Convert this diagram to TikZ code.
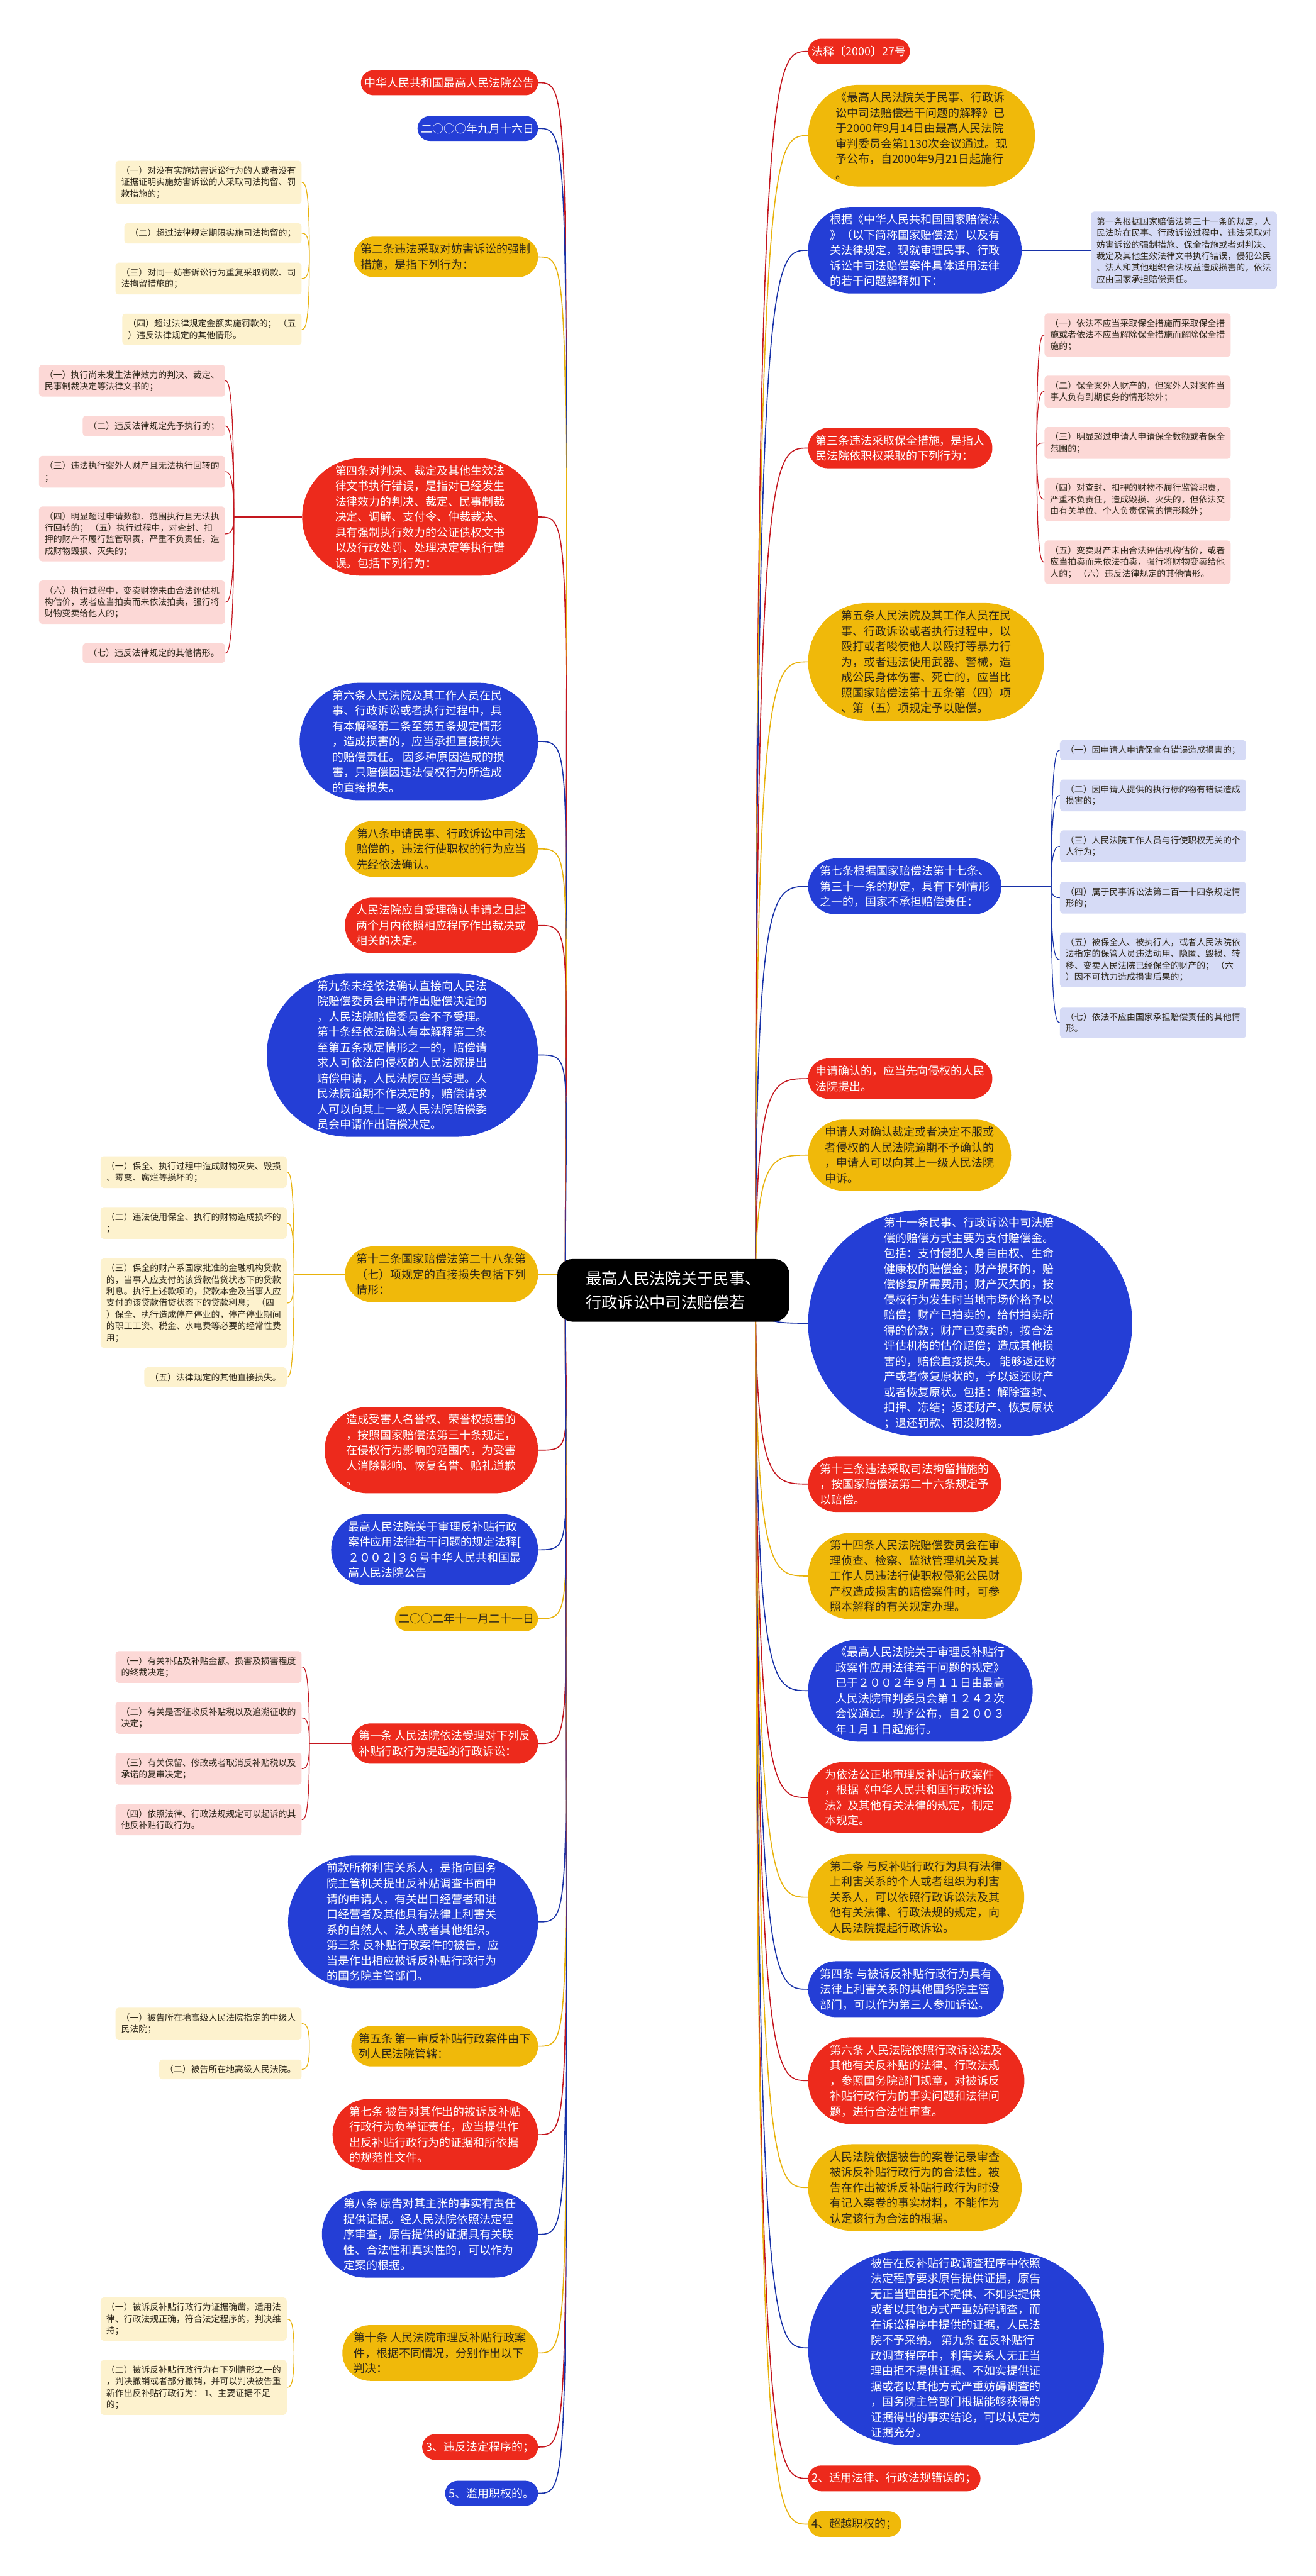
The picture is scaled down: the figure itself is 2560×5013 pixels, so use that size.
\documentclass[tikz,border=0pt]{standalone}
\usepackage{fontspec}
\setmainfont{Noto Sans CJK SC}
\usetikzlibrary{shapes.misc,backgrounds}
\definecolor{mred}{RGB}{237,42,28}
\definecolor{mblue}{RGB}{36,62,214}
\definecolor{myel}{RGB}{240,185,10}
\definecolor{cred}{RGB}{196,22,30}
\definecolor{cblue}{RGB}{24,50,168}
\definecolor{cyel}{RGB}{232,178,12}
\definecolor{lpink}{RGB}{252,216,214}
\definecolor{lcream}{RGB}{253,242,206}
\definecolor{llav}{RGB}{214,219,246}
\definecolor{dtext}{RGB}{45,38,25}
\begin{document}
\begin{tikzpicture}[x=1pt,y=-1pt,
  mainbox/.style={rounded rectangle, inner xsep=5pt, inner ysep=14pt, align=left, font=\fontsize{22}{30}\selectfont},
  redm/.style={mainbox, fill=mred, text=white},
  bluem/.style={mainbox, fill=mblue, text=white},
  yelm/.style={mainbox, fill=myel, text=dtext},
  leafbox/.style={rectangle, rounded corners=6pt, inner xsep=11pt, inner ysep=11pt, align=left, text=dtext, font=\fontsize{17}{22.5}\selectfont},
  pinkleaf/.style={leafbox, fill=lpink},
  creamleaf/.style={leafbox, fill=lcream},
  lavleaf/.style={leafbox, fill=llav},
  lr/.style={draw=cred, line width=2pt},
  lb/.style={draw=cblue, line width=2pt},
  ly/.style={draw=cyel, line width=2pt},
  thinr/.style={draw=cred, line width=1.5pt},
  thinb/.style={draw=cblue, line width=1.5pt},
  thiny/.style={draw=cyel, line width=1.5pt}]
\useasboundingbox (0,0) rectangle (2560,5013);

% root
\node[rectangle, rounded corners=30pt, fill=black, text=white, minimum width=451pt, minimum height=122pt, align=left, font=\fontsize{31}{46}\selectfont] (root) at (1310,2511) {最高人民法院关于民事、\\行政诉讼中司法赔偿若};
\coordinate (jL) at (1100,2511);
\coordinate (jR) at (1470,2511);

% left branches
\node[redm, anchor=east] (L1) at (1047,161) {中华人民共和国最高人民法院公告};
\node[bluem, anchor=east] (L2) at (1047,250) {二○○○年九月十六日};
\node[yelm, anchor=east] (L3) at (1047,500) {第二条违法采取对妨害诉讼的强制\\措施，是指下列行为：};
\node[redm, anchor=east] (L4) at (1047,1006) {第四条对判决、裁定及其他生效法\\律文书执行错误，是指对已经发生\\法律效力的判决、裁定、民事制裁\\决定、调解、支付令、仲裁裁决、\\具有强制执行效力的公证债权文书\\以及行政处罚、处理决定等执行错\\误。包括下列行为：};
\node[bluem, anchor=east] (L5) at (1047,1443) {第六条人民法院及其工作人员在民\\事、行政诉讼或者执行过程中，具\\有本解释第二条至第五条规定情形\\，造成损害的，应当承担直接损失\\的赔偿责任。 因多种原因造成的损\\害，只赔偿因违法侵权行为所造成\\的直接损失。};
\node[yelm, anchor=east] (L6) at (1047,1652) {第八条申请民事、行政诉讼中司法\\赔偿的，违法行使职权的行为应当\\先经依法确认。};
\node[redm, anchor=east] (L7) at (1047,1801) {人民法院应自受理确认申请之日起\\两个月内依照相应程序作出裁决或\\相关的决定。};
\node[bluem, anchor=east] (L8) at (1047,2053) {第九条未经依法确认直接向人民法\\院赔偿委员会申请作出赔偿决定的\\，人民法院赔偿委员会不予受理。\\第十条经依法确认有本解释第二条\\至第五条规定情形之一的，赔偿请\\求人可依法向侵权的人民法院提出\\赔偿申请，人民法院应当受理。人\\民法院逾期不作决定的，赔偿请求\\人可以向其上一级人民法院赔偿委\\员会申请作出赔偿决定。};
\node[yelm, anchor=east] (L9) at (1047,2480) {第十二条国家赔偿法第二十八条第\\（七）项规定的直接损失包括下列\\情形：};
\node[redm, anchor=east] (L10) at (1047,2822) {造成受害人名誉权、荣誉权损害的\\，按照国家赔偿法第三十条规定，\\在侵权行为影响的范围内，为受害\\人消除影响、恢复名誉、赔礼道歉\\。};
\node[bluem, anchor=east] (L11) at (1047,3016) {最高人民法院关于审理反补贴行政\\案件应用法律若干问题的规定法释[\\２００２]３６号中华人民共和国最\\高人民法院公告};
\node[yelm, anchor=east] (L12) at (1047,3150) {二○○二年十一月二十一日};
\node[redm, anchor=east] (L13) at (1047,3393) {第一条 人民法院依法受理对下列反\\补贴行政行为提起的行政诉讼：};
\node[bluem, anchor=east] (L14) at (1047,3740) {前款所称利害关系人，是指向国务\\院主管机关提出反补贴调查书面申\\请的申请人，有关出口经营者和进\\口经营者及其他具有法律上利害关\\系的自然人、法人或者其他组织。\\第三条 反补贴行政案件的被告，应\\当是作出相应被诉反补贴行政行为\\的国务院主管部门。};
\node[yelm, anchor=east] (L15) at (1047,3982) {第五条 第一审反补贴行政案件由下\\列人民法院管辖：};
\node[redm, anchor=east] (L16) at (1047,4154) {第七条 被告对其作出的被诉反补贴\\行政行为负举证责任，应当提供作\\出反补贴行政行为的证据和所依据\\的规范性文件。};
\node[bluem, anchor=east] (L17) at (1047,4348) {第八条 原告对其主张的事实有责任\\提供证据。经人民法院依照法定程\\序审查，原告提供的证据具有关联\\性、合法性和真实性的，可以作为\\定案的根据。};
\node[yelm, anchor=east] (L18) at (1047,4579) {第十条 人民法院审理反补贴行政案\\件，根据不同情况，分别作出以下\\判决：};
\node[redm, anchor=east] (L19) at (1047,4762) {3、违反法定程序的；};
\node[bluem, anchor=east] (L20) at (1047,4852) {5、滥用职权的。};

% right branches
\node[redm, anchor=west] (R1) at (1572,100) {法释〔2000〕27号};
\node[yelm, anchor=west] (R2) at (1572,264) {《最高人民法院关于民事、行政诉\\讼中司法赔偿若干问题的解释》已\\于2000年9月14日由最高人民法院\\审判委员会第1130次会议通过。现\\予公布，自2000年9月21日起施行\\。};
\node[bluem, anchor=west] (R3) at (1572,487) {根据《中华人民共和国国家赔偿法\\》（以下简称国家赔偿法）以及有\\关法律规定，现就审理民事、行政\\诉讼中司法赔偿案件具体适用法律\\的若干问题解释如下：};
\node[redm, anchor=west] (R4) at (1572,872) {第三条违法采取保全措施，是指人\\民法院依职权采取的下列行为：};
\node[yelm, anchor=west] (R5) at (1572,1288) {第五条人民法院及其工作人员在民\\事、行政诉讼或者执行过程中，以\\殴打或者唆使他人以殴打等暴力行\\为，或者违法使用武器、警械，造\\成公民身体伤害、死亡的，应当比\\照国家赔偿法第十五条第（四）项\\、第（五）项规定予以赔偿。};
\node[bluem, anchor=west] (R6) at (1572,1725) {第七条根据国家赔偿法第十七条、\\第三十一条的规定，具有下列情形\\之一的，国家不承担赔偿责任：};
\node[redm, anchor=west] (R7) at (1572,2099) {申请确认的，应当先向侵权的人民\\法院提出。};
\node[yelm, anchor=west] (R8) at (1572,2248) {申请人对确认裁定或者决定不服或\\者侵权的人民法院逾期不予确认的\\，申请人可以向其上一级人民法院\\申诉。};
\node[bluem, anchor=west] (R9) at (1572,2575) {第十一条民事、行政诉讼中司法赔\\偿的赔偿方式主要为支付赔偿金。\\包括：支付侵犯人身自由权、生命\\健康权的赔偿金；财产损坏的，赔\\偿修复所需费用；财产灭失的，按\\侵权行为发生时当地市场价格予以\\赔偿；财产已拍卖的，给付拍卖所\\得的价款；财产已变卖的，按合法\\评估机构的估价赔偿；造成其他损\\害的，赔偿直接损失。 能够返还财\\产或者恢复原状的，予以返还财产\\或者恢复原状。包括：解除查封、\\扣押、冻结；返还财产、恢复原状\\；退还罚款、罚没财物。};
\node[redm, anchor=west] (R10) at (1572,2888) {第十三条违法采取司法拘留措施的\\，按国家赔偿法第二十六条规定予\\以赔偿。};
\node[yelm, anchor=west] (R11) at (1572,3067) {第十四条人民法院赔偿委员会在审\\理侦查、检察、监狱管理机关及其\\工作人员违法行使职权侵犯公民财\\产权造成损害的赔偿案件时，可参\\照本解释的有关规定办理。};
\node[bluem, anchor=west] (R12) at (1572,3290) {《最高人民法院关于审理反补贴行\\政案件应用法律若干问题的规定》\\已于２００２年９月１１日由最高\\人民法院审判委员会第１２４２次\\会议通过。现予公布，自２００３\\年１月１日起施行。};
\node[redm, anchor=west] (R13) at (1572,3498) {为依法公正地审理反补贴行政案件\\，根据《中华人民共和国行政诉讼\\法》及其他有关法律的规定，制定\\本规定。};
\node[yelm, anchor=west] (R14) at (1572,3692) {第二条 与反补贴行政行为具有法律\\上利害关系的个人或者组织为利害\\关系人，可以依照行政诉讼法及其\\他有关法律、行政法规的规定，向\\人民法院提起行政诉讼。};
\node[bluem, anchor=west] (R15) at (1572,3871) {第四条 与被诉反补贴行政行为具有\\法律上利害关系的其他国务院主管\\部门，可以作为第三人参加诉讼。};
\node[redm, anchor=west] (R16) at (1572,4049) {第六条 人民法院依照行政诉讼法及\\其他有关反补贴的法律、行政法规\\，参照国务院部门规章，对被诉反\\补贴行政行为的事实问题和法律问\\题，进行合法性审查。};
\node[yelm, anchor=west] (R17) at (1572,4257) {人民法院依据被告的案卷记录审查\\被诉反补贴行政行为的合法性。被\\告在作出被诉反补贴行政行为时没\\有记入案卷的事实材料，不能作为\\认定该行为合法的根据。};
\node[bluem, anchor=west] (R18) at (1572,4569) {被告在反补贴行政调查程序中依照\\法定程序要求原告提供证据，原告\\无正当理由拒不提供、不如实提供\\或者以其他方式严重妨碍调查，而\\在诉讼程序中提供的证据，人民法\\院不予采纳。 第九条 在反补贴行\\政调查程序中，利害关系人无正当\\理由拒不提供证据、不如实提供证\\据或者以其他方式严重妨碍调查的\\，国务院主管部门根据能够获得的\\证据得出的事实结论，可以认定为\\证据充分。};
\node[redm, anchor=west] (R19) at (1572,4823) {2、适用法律、行政法规错误的；};
\node[yelm, anchor=west] (R20) at (1572,4912) {4、超越职权的；};

% leaves, left
\node[creamleaf, anchor=east] (L3a) at (587,355) {（一）对没有实施妨害诉讼行为的人或者没有\\证据证明实施妨害诉讼的人采取司法拘留、罚\\款措施的；};
\node[creamleaf, anchor=east] (L3b) at (587,454) {（二）超过法律规定期限实施司法拘留的；};
\node[creamleaf, anchor=east] (L3c) at (587,542) {（三）对同一妨害诉讼行为重复采取罚款、司\\法拘留措施的；};
\node[creamleaf, anchor=east] (L3d) at (587,641) {（四）超过法律规定金额实施罚款的； （五\\）违反法律规定的其他情形。};
\coordinate (jL3) at (602,500);

\node[pinkleaf, anchor=east] (L4a) at (438,741) {（一）执行尚未发生法律效力的判决、裁定、\\民事制裁决定等法律文书的；};
\node[pinkleaf, anchor=east] (L4b) at (438,829) {（二）违反法律规定先予执行的；};
\node[pinkleaf, anchor=east] (L4c) at (438,918) {（三）违法执行案外人财产且无法执行回转的\\；};
\node[pinkleaf, anchor=east] (L4d) at (438,1039) {（四）明显超过申请数额、范围执行且无法执\\行回转的； （五）执行过程中，对查封、扣\\押的财产不履行监管职责，严重不负责任，造\\成财物毁损、灭失的；};
\node[pinkleaf, anchor=east] (L4e) at (438,1172) {（六）执行过程中，变卖财物未由合法评估机\\构估价，或者应当拍卖而未依法拍卖，强行将\\财物变卖给他人的；};
\node[pinkleaf, anchor=east] (L4f) at (438,1271) {（七）违反法律规定的其他情形。};
\coordinate (jL4) at (455,1006);

\node[creamleaf, anchor=east] (L9a) at (558,2281) {（一）保全、执行过程中造成财物灭失、毁损\\、霉变、腐烂等损坏的；};
\node[creamleaf, anchor=east] (L9b) at (558,2380) {（二）违法使用保全、执行的财物造成损坏的\\；};
\node[creamleaf, anchor=east] (L9c) at (558,2536) {（三）保全的财产系国家批准的金融机构贷款\\的，当事人应支付的该贷款借贷状态下的贷款\\利息。执行上述款项的，贷款本金及当事人应\\支付的该贷款借贷状态下的贷款利息； （四\\）保全、执行造成停产停业的，停产停业期间\\的职工工资、税金、水电费等必要的经常性费\\用；};
\node[creamleaf, anchor=east] (L9d) at (558,2680) {（五）法律规定的其他直接损失。};
\coordinate (jL9) at (572,2480);

\node[pinkleaf, anchor=east] (L13a) at (587,3244) {（一）有关补贴及补贴金额、损害及损害程度\\的终裁决定；};
\node[pinkleaf, anchor=east] (L13b) at (587,3343) {（二）有关是否征收反补贴税以及追溯征收的\\决定；};
\node[pinkleaf, anchor=east] (L13c) at (587,3442) {（三）有关保留、修改或者取消反补贴税以及\\承诺的复审决定；};
\node[pinkleaf, anchor=east] (L13d) at (587,3541) {（四）依照法律、行政法规规定可以起诉的其\\他反补贴行政行为。};
\coordinate (jL13) at (602,3393);

\node[creamleaf, anchor=east] (L15a) at (587,3938) {（一）被告所在地高级人民法院指定的中级人\\民法院；};
\node[creamleaf, anchor=east] (L15b) at (587,4027) {（二）被告所在地高级人民法院。};
\coordinate (jL15) at (602,3982);

\node[creamleaf, anchor=east] (L18a) at (558,4513) {（一）被诉反补贴行政行为证据确凿，适用法\\律、行政法规正确，符合法定程序的，判决维\\持；};
\node[creamleaf, anchor=east] (L18b) at (558,4646) {（二）被诉反补贴行政行为有下列情形之一的\\，判决撤销或者部分撤销，并可以判决被告重\\新作出反补贴行政行为： 1、主要证据不足\\的；};
\coordinate (jL18) at (572,4579);

% leaves, right
\node[lavleaf, anchor=west] (R3a) at (2122,487) {第一条根据国家赔偿法第三十一条的规定，人\\民法院在民事、行政诉讼过程中，违法采取对\\妨害诉讼的强制措施、保全措施或者对判决、\\裁定及其他生效法律文书执行错误，侵犯公民\\、法人和其他组织合法权益造成损害的，依法\\应由国家承担赔偿责任。};

\node[pinkleaf, anchor=west] (R4a) at (2032,652) {（一）依法不应当采取保全措施而采取保全措\\施或者依法不应当解除保全措施而解除保全措\\施的；};
\node[pinkleaf, anchor=west] (R4b) at (2032,762) {（二）保全案外人财产的，但案外人对案件当\\事人负有到期债务的情形除外；};
\node[pinkleaf, anchor=west] (R4c) at (2032,862) {（三）明显超过申请人申请保全数额或者保全\\范围的；};
\node[pinkleaf, anchor=west] (R4d) at (2032,972) {（四）对查封、扣押的财物不履行监管职责，\\严重不负责任，造成毁损、灭失的，但依法交\\由有关单位、个人负责保管的情形除外；};
\node[pinkleaf, anchor=west] (R4e) at (2032,1094) {（五）变卖财产未由合法评估机构估价，或者\\应当拍卖而未依法拍卖，强行将财物变卖给他\\人的； （六）违反法律规定的其他情形。};
\coordinate (jR4) at (2017,872);

\node[lavleaf, anchor=west] (R6a) at (2062,1460) {（一）因申请人申请保全有错误造成损害的；};
\node[lavleaf, anchor=west] (R6b) at (2062,1548) {（二）因申请人提供的执行标的物有错误造成\\损害的；};
\node[lavleaf, anchor=west] (R6c) at (2062,1647) {（三）人民法院工作人员与行使职权无关的个\\人行为；};
\node[lavleaf, anchor=west] (R6d) at (2062,1747) {（四）属于民事诉讼法第二百一十四条规定情\\形的；};
\node[lavleaf, anchor=west] (R6e) at (2062,1868) {（五）被保全人、被执行人，或者人民法院依\\法指定的保管人员违法动用、隐匿、毁损、转\\移、变卖人民法院已经保全的财产的； （六\\）因不可抗力造成损害后果的；};
\node[lavleaf, anchor=west] (R6f) at (2062,1990) {（七）依法不应由国家承担赔偿责任的其他情\\形。};
\coordinate (jR6) at (2045,1725);

\begin{scope}[on background layer]
\fill[white] (0,0) rectangle (2560,5013);
% root to branches
\foreach \n/\c in {L1/lr,L2/lb,L3/ly,L4/lr,L5/lb,L6/ly,L7/lr,L8/lb,L9/ly,L10/lr,L11/lb,L12/ly,L13/lr,L14/lb,L15/ly,L16/lr,L17/lb,L18/ly,L19/lr,L20/lb}
  \draw[\c] (jL) .. controls (jL |- \n.east) and ([xshift=70pt]\n.east) .. (\n.east);
\foreach \n/\c in {R1/lr,R2/ly,R3/lb,R4/lr,R5/ly,R6/lb,R7/lr,R8/ly,R9/lb,R10/lr,R11/ly,R12/lb,R13/lr,R14/ly,R15/lb,R16/lr,R17/ly,R18/lb,R19/lr,R20/ly}
  \draw[\c] (jR) .. controls (jR |- \n.west) and ([xshift=-70pt]\n.west) .. (\n.west);
% branches to leaves
\draw[thiny] (L3.west) -- (jL3);
\foreach \n in {L3a,L3b,L3c,L3d}
  \draw[thiny] (jL3) .. controls (jL3 |- \n.east) and ([xshift=6pt]\n.east) .. (\n.east);
\draw[thinr] (L4.west) -- (jL4);
\foreach \n in {L4a,L4b,L4c,L4d,L4e,L4f}
  \draw[thinr] (jL4) .. controls (jL4 |- \n.east) and ([xshift=6pt]\n.east) .. (\n.east);
\draw[thiny] (L9.west) -- (jL9);
\foreach \n in {L9a,L9b,L9c,L9d}
  \draw[thiny] (jL9) .. controls (jL9 |- \n.east) and ([xshift=6pt]\n.east) .. (\n.east);
\draw[thinr] (L13.west) -- (jL13);
\foreach \n in {L13a,L13b,L13c,L13d}
  \draw[thinr] (jL13) .. controls (jL13 |- \n.east) and ([xshift=6pt]\n.east) .. (\n.east);
\draw[thiny] (L15.west) -- (jL15);
\foreach \n in {L15a,L15b}
  \draw[thiny] (jL15) .. controls (jL15 |- \n.east) and ([xshift=6pt]\n.east) .. (\n.east);
\draw[thiny] (L18.west) -- (jL18);
\foreach \n in {L18a,L18b}
  \draw[thiny] (jL18) .. controls (jL18 |- \n.east) and ([xshift=6pt]\n.east) .. (\n.east);
\draw[thinb] (R3.east) -- (R3a.west);
\draw[thinr] (R4.east) -- (jR4);
\foreach \n in {R4a,R4b,R4c,R4d,R4e}
  \draw[thinr] (jR4) .. controls (jR4 |- \n.west) and ([xshift=-6pt]\n.west) .. (\n.west);
\draw[thinb] (R6.east) -- (jR6);
\foreach \n in {R6a,R6b,R6c,R6d,R6e,R6f}
  \draw[thinb] (jR6) .. controls (jR6 |- \n.west) and ([xshift=-6pt]\n.west) .. (\n.west);
\end{scope}
\end{tikzpicture}
\end{document}
